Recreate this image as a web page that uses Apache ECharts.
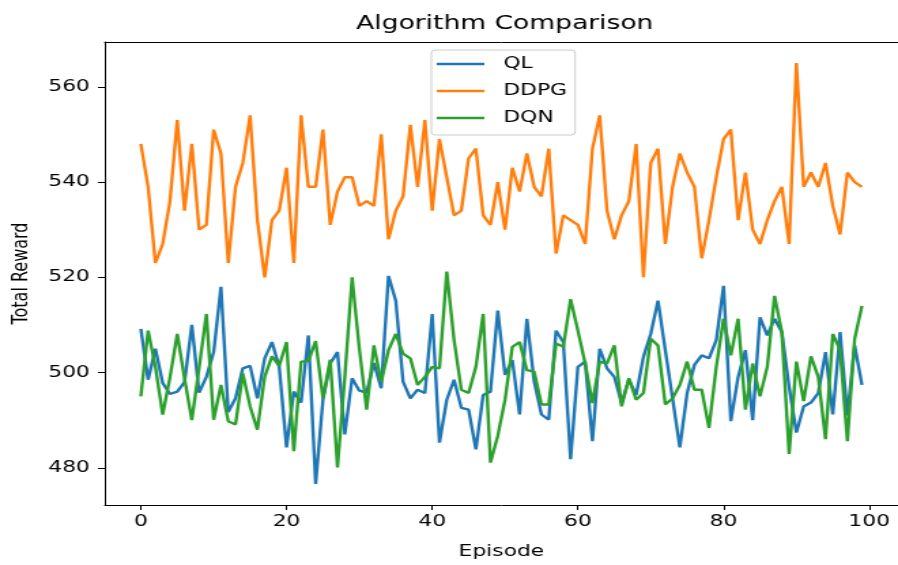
<!DOCTYPE html>
<html>
<head>
<meta charset="utf-8">
<script src="https://cdn.jsdelivr.net/npm/echarts@6/dist/echarts.min.js"></script>
<style>
html,body{margin:0;padding:0;background:#fff;overflow:hidden;width:898px;height:565px;}
#c{width:660px;height:565px;transform:scaleX(1.3606);transform-origin:0 0;}
</style>
</head>
<body>
<div id="c"></div>
<script>
const seriesNames = ['QL', 'DDPG', 'DQN'];
const xTicks = [0, 20, 40, 60, 80, 100];
const yTicks = [480, 500, 520, 540, 560];

const ql = [
509.2, 498.5, 505, 497.8, 495.5, 496, 498, 510, 495.8, 499.1,
504.3, 518, 491.7, 494.6, 500.9, 501.4, 494.6, 503, 506.4, 501.2,
484.3, 496, 493.7, 507.8, 476.6, 494.3, 501.9, 504.3, 487, 498.8,
496.2, 495.8, 502, 496.7, 520.3, 515.1, 498.1, 494.6, 496.4, 495.7,
512.3, 485.3, 494.3, 498.5, 492.6, 492.2, 483.9, 495.3, 496, 513,
499.5, 502.6, 491.2, 511.3, 498.1, 491.2, 490.1, 508.8, 506.4, 481.8,
501.2, 502.3, 485.6, 505, 500.9, 499.1, 493.6, 498.5, 495.3, 503.3,
508.1, 515.1, 504.7, 494.6, 484.3, 495.7, 501.6, 503.6, 503, 506.8,
518.2, 489.8, 499.1, 504.7, 490, 511.6, 507.8, 511.3, 508.5, 497,
487.4, 492.9, 493.7, 495.7, 504.3, 491.2, 508.5, 491, 505.7, 497.4
];

const ddpg = [
548, 539, 523, 527, 536, 553, 534, 548, 530, 531,
551, 546, 523, 539, 544, 554, 532, 520, 532, 534,
543, 523, 554, 539, 539, 551, 531, 538, 541, 541,
535, 536, 535, 550, 528, 534, 537, 552, 539, 553,
534, 549, 541, 533, 534, 545, 547, 533, 531, 540,
530, 543, 538, 546, 539, 537, 547, 525, 533, 532,
531, 527, 547, 554, 534, 528, 533, 536, 548, 520,
544, 547, 527, 539, 546, 542, 539, 524, 532, 541,
549, 551, 532, 542, 530, 527, 532, 536, 539, 527,
565, 539, 542, 539, 544, 535, 529, 542, 540, 539
];

const dqn = [
495, 508.8, 501.2, 491.2, 499, 508.1, 498.8, 490, 501, 512.3,
490.1, 497.4, 489.8, 489.1, 499.8, 492.9, 488, 499.1, 503.4, 501.4,
506.4, 483.5, 502.3, 502.4, 506.6, 494.6, 502.7, 480.1, 499, 520,
505, 492.2, 505.7, 498, 504.7, 508.1, 504, 503, 497.4, 499.1,
501.2, 500.9, 521.2, 506.8, 496.4, 495.7, 501.2, 512.3, 481.1, 486.7,
494.3, 505.4, 506.4, 500.5, 500.2, 493.3, 493.3, 506.1, 505.4, 515.4,
508.8, 501.9, 493.6, 502.3, 501.9, 505.7, 492.9, 498.8, 494.3, 495.7,
507.1, 505.7, 493.3, 494.6, 497.4, 502.3, 496.4, 496.4, 488.4, 501.2,
511.3, 503.6, 511.3, 492.2, 501.9, 495, 501.2, 516.1, 508.5, 482.9,
502.3, 494, 503.4, 499.1, 486, 508.1, 504.7, 485.6, 507.1, 514
];

const colors = ['#1f77b4', '#ff7f0e', '#2ca02c'];
const FONT = 'DejaVu Sans';
const values = [ql, ddpg, dqn];

const chart = echarts.init(document.getElementById('c'), null, {renderer: 'canvas'});
const X_MIN = -4.95, X_MAX = 103.95, Y_MIN = 472.2, Y_MAX = 569.4;

const spine = {show: true, onZero: false, lineStyle: {color: '#000', width: 1}};
const option = {
  animation: false,
  backgroundColor: '#fff',
  title: {
    text: 'Algorithm Comparison',
    left: 366, top: 9, textAlign: 'center',
    textStyle: {fontFamily: FONT, fontSize: 19.5, fontWeight: 'normal', color: '#000'}
  },
  legend: {
    orient: 'vertical',
    left: 317, top: 50,
    data: seriesNames,
    icon: 'rect',
    itemWidth: 35, itemHeight: 2.4,
    itemGap: 9,
    padding: [5, 6, 8, 4],
    borderColor: '#cccccc', borderWidth: 1, borderRadius: 3,
    backgroundColor: 'rgba(255,255,255,0.8)',
    textStyle: {fontFamily: FONT, fontSize: 16, color: '#000', lineHeight: 18, padding: [0, 0, 0, 9]}
  },
  grid: {left: 76.2, top: 42, width: 586.6, height: 467.6, containLabel: false},
  xAxis: [{
    type: 'value', min: X_MIN, max: X_MAX,
    name: 'Episode', nameLocation: 'middle', nameGap: 39,
    nameTextStyle: {fontFamily: FONT, fontSize: 16, color: '#000'},
    axisLine: spine,
    axisTick: {show: true, length: 5, lineStyle: {color: '#000'}, customValues: xTicks},
    axisLabel: {fontFamily: FONT, fontSize: 16, color: '#000', margin: 9, customValues: xTicks},
    splitLine: {show: false}
  }, {
    type: 'value', min: X_MIN, max: X_MAX, position: 'top',
    axisLine: spine, axisTick: {show: false}, axisLabel: {show: false}, splitLine: {show: false}
  }],
  yAxis: [{
    type: 'value', min: Y_MIN, max: Y_MAX,
    name: 'Total Reward', nameLocation: 'middle', nameGap: 53, nameRotate: 90,
    nameTextStyle: {fontFamily: FONT, fontSize: 16, color: '#000'},
    axisLine: spine,
    axisTick: {show: true, length: 5, lineStyle: {color: '#000'}, customValues: yTicks},
    axisLabel: {fontFamily: FONT, fontSize: 16, color: '#000', margin: 11, customValues: yTicks},
    splitLine: {show: false}
  }, {
    type: 'value', min: Y_MIN, max: Y_MAX, position: 'right',
    axisLine: spine, axisTick: {show: false}, axisLabel: {show: false}, splitLine: {show: false}
  }],
  series: seriesNames.map((name, k) => ({
    name: name,
    type: 'line',
    xAxisIndex: 0, yAxisIndex: 0,
    data: values[k].map((v, i) => [i, v]),
    showSymbol: false, symbol: 'none',
    lineStyle: {color: colors[k], width: 2.4},
    itemStyle: {color: colors[k]},
    z: 2 + k
  }))
};
chart.setOption(option);
</script>
</body>
</html>
